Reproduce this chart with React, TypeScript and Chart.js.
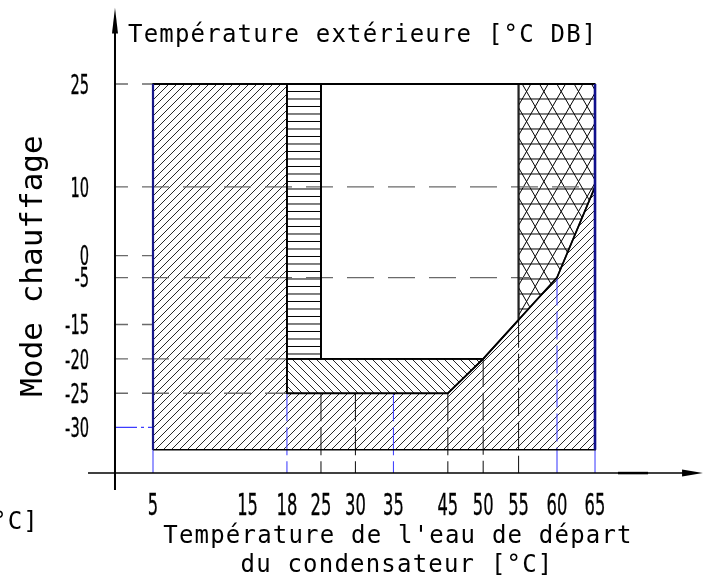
import React, { useEffect, useRef } from 'react';
import { Chart, registerables } from 'chart.js';
Chart.register(...registerables);

// ---------- axis definition (schematic, non-uniform axes) ----------
const xTicks = [5, 15, 18, 25, 30, 35, 45, 50, 55, 60, 65];
const xTickLabels = ['5', '15', '18', '25', '30', '35', '45', '50', '55', '60', '65'];
const xTickPos = [0, 2.14, 3.03, 3.8, 4.58, 5.44, 6.67, 7.47, 8.27, 9.14, 10];
const yTicks = [-30, -25, -20, -15, -5, 0, 10, 25];
const yTickLabels = ['-30', '-25', '-20', '-15', '-5', '0', '10', '25'];
const yTickPos = [0.62, 1.55, 2.49, 3.43, 4.71, 5.31, 7.19, 10];

const yBottom = -33.3;

// ---------- operating envelope zones (x: water °C, y: outdoor °C) ----------
const zoneLowerX = [5, 5, 18, 18, 45, 50, 60, 65, 65];
const zoneLowerY = [yBottom, 25, 25, -25, -25, -20, -5, 10, yBottom];
const zoneBandX = [18, 18, 25, 25];
const zoneBandY = [-20, 25, 25, -20];
const zoneStepX = [18, 18, 50, 45];
const zoneStepY = [-25, -20, -20, -25];
const zoneTriX = [55, 65, 65, 60, 55];
const zoneTriY = [25, 25, 10, -5, -14];
const zoneOpenX = [25, 55, 55, 50, 25];
const zoneOpenY = [25, 25, -14, -20, -20];

// dashed reference lines
const gridEndX = [5, 18, 18, 5, 56.5, 5, 65, 5]; // one per yTick
const guideX = [5, 18, 25, 30, 35, 45, 50, 55, 60, 65];
const guideFromY = [yBottom, -25, -25, -25, -25, -25, -20, -14, -5, yBottom];
const guideBlue = [true, true, false, false, true, false, false, false, true, true];

// ---------- layout ----------
const W = 703, H = 578;
const X_MIN = -3.4615, X_MAX = 12.443;
const Y_MIN = -3.497, Y_MAX = 12.295;
const AXIS_U = -0.86; // vertical axis position (x units)
const AXIS_V = -0.63; // horizontal axis position (y units)

function interp(v: number, keys: number[], pos: number[]) {
  const n = keys.length;
  let i = 0;
  if (v <= keys[0]) i = 0;
  else if (v >= keys[n - 1]) i = n - 2;
  else { while (i < n - 2 && v > keys[i + 1]) i++; }
  const t = (v - keys[i]) / (keys[i + 1] - keys[i]);
  return pos[i] + t * (pos[i + 1] - pos[i]);
}
const tx = (t: number) => interp(t, xTicks, xTickPos);
const ty = (t: number) => interp(t, yTicks, yTickPos);

function hatch(ctx: CanvasRenderingContext2D, poly: number[][], angleDeg: number, spacing: number, ox: number, oy: number, color = '#000', lw = 1) {
  ctx.save();
  ctx.beginPath();
  poly.forEach(([x, y], i) => (i ? ctx.lineTo(x, y) : ctx.moveTo(x, y)));
  ctx.closePath();
  ctx.clip();
  const a = (angleDeg * Math.PI) / 180;
  const dx = Math.cos(a), dy = -Math.sin(a);
  const nx = -dy, ny = dx;
  const xs = poly.map(p => p[0]), ys = poly.map(p => p[1]);
  const minX = Math.min(...xs), maxX = Math.max(...xs), minY = Math.min(...ys), maxY = Math.max(...ys);
  const corners = [[minX, minY], [maxX, minY], [minX, maxY], [maxX, maxY]];
  const proj = corners.map(([x, y]) => (x - ox) * nx + (y - oy) * ny);
  const kMin = Math.floor(Math.min(...proj) / spacing) - 1;
  const kMax = Math.ceil(Math.max(...proj) / spacing) + 1;
  const L = Math.hypot(maxX - minX, maxY - minY) + 20;
  const cx = (minX + maxX) / 2, cy = (minY + maxY) / 2;
  ctx.beginPath();
  for (let k = kMin; k <= kMax; k++) {
    const bx = ox + nx * k * spacing, by = oy + ny * k * spacing;
    const t = (cx - bx) * dx + (cy - by) * dy;
    const mx = bx + dx * t, my = by + dy * t;
    ctx.moveTo(mx - dx * L, my - dy * L);
    ctx.lineTo(mx + dx * L, my + dy * L);
  }
  ctx.strokeStyle = color;
  ctx.lineWidth = lw;
  ctx.stroke();
  ctx.restore();
}

function drawNum(ctx: CanvasRenderingContext2D, text: string, x: number, yc: number, align: CanvasTextAlign, capH: number, digitW: number) {
  ctx.save();
  const fs = capH / 0.729;
  ctx.font = `${fs}px 'DejaVu Sans', sans-serif`;
  const w0 = ctx.measureText('0').width;
  ctx.translate(x, yc + capH / 2);
  ctx.scale(digitW / w0, 1);
  ctx.textAlign = align;
  ctx.textBaseline = 'alphabetic';
  ctx.fillStyle = '#000';
  ctx.strokeStyle = '#000';
  ctx.lineWidth = 0.35;
  ctx.fillText(text, 0, 0);
  ctx.strokeText(text, 0, 0);
  ctx.restore();
}

const envelopePlugin = {
  id: 'envelope',
  beforeDatasetsDraw(chart: any) {
    const ctx: CanvasRenderingContext2D = chart.ctx;
    const sx = chart.scales.x, sy = chart.scales.y;
    const poly = (X: number[], Y: number[]) => X.map((x, i) => [sx.getPixelForValue(tx(x)), sy.getPixelForValue(ty(Y[i]))]);
    const o = [sx.getPixelForValue(tx(5)), sy.getPixelForValue(ty(25))];
    hatch(ctx, poly(zoneLowerX, zoneLowerY), 45, 8 / Math.SQRT2, o[0], o[1], '#111', 0.9);
    hatch(ctx, poly(zoneBandX, zoneBandY), 0, 7.5, o[0], o[1]);
    hatch(ctx, poly(zoneStepX, zoneStepY), 135, 8 / Math.SQRT2, o[0], o[1], '#111', 0.9);
    const tri = poly(zoneTriX, zoneTriY);
    hatch(ctx, tri, 0, 15, o[0], o[1]);
    const tcx = sx.getPixelForValue(tx(55)) + 8;
    hatch(ctx, tri, 60, 15, tcx, o[1] + 7.5);
    hatch(ctx, tri, 120, 15, tcx, o[1] + 7.5);
  },
  afterDatasetsDraw(chart: any) {
    const ctx: CanvasRenderingContext2D = chart.ctx;
    const sx = chart.scales.x, sy = chart.scales.y;
    const ax = sx.getPixelForValue(AXIS_U);
    const ay = sy.getPixelForValue(AXIS_V);
    ctx.save();
    ctx.strokeStyle = '#000';
    ctx.fillStyle = '#000';
    // vertical axis
    ctx.lineWidth = 2;
    ctx.beginPath();
    ctx.moveTo(ax, sy.getPixelForValue(11.6));
    ctx.lineTo(ax, sy.getPixelForValue(-1.09));
    ctx.stroke();
    ctx.beginPath();
    ctx.moveTo(ax, sy.getPixelForValue(12.08));
    ctx.lineTo(ax - 3, sy.getPixelForValue(11.38));
    ctx.lineTo(ax + 3, sy.getPixelForValue(11.38));
    ctx.closePath();
    ctx.fill();
    // horizontal axis
    ctx.lineWidth = 1.5;
    ctx.beginPath();
    ctx.moveTo(sx.getPixelForValue(-1.47), ay);
    ctx.lineTo(sx.getPixelForValue(12.0), ay);
    ctx.stroke();
    ctx.lineWidth = 2.5;
    ctx.beginPath();
    ctx.moveTo(sx.getPixelForValue(10.52), ay);
    ctx.lineTo(sx.getPixelForValue(11.2), ay);
    ctx.stroke();
    ctx.beginPath();
    ctx.moveTo(sx.getPixelForValue(12.44), ay);
    ctx.lineTo(sx.getPixelForValue(11.97), ay - 3.5);
    ctx.lineTo(sx.getPixelForValue(11.97), ay + 3.5);
    ctx.closePath();
    ctx.fill();

    // tick labels
    yTicks.forEach((t, i) => drawNum(ctx, yTickLabels[i], ax - 26, sy.getPixelForValue(ty(t)), 'right', 19.5, 9.3));
    xTicks.forEach((t, i) => drawNum(ctx, xTickLabels[i], sx.getPixelForValue(tx(t)), ay + 31, 'center', 22, 10.4));

    // titles
    ctx.font = "24px 'DejaVu Sans Mono', monospace";
    (ctx as any).letterSpacing = '1.2px';
    ctx.textBaseline = 'alphabetic';
    ctx.textAlign = 'left';
    ctx.fillText('Température extérieure [°C DB]', ax + 13, 42);
    ctx.textAlign = 'center';
    ctx.fillText("Température de l'eau de départ", 398, 543);
    ctx.fillText('du condensateur [°C]', 397, 572);
    ctx.textAlign = 'right';
    ctx.fillText('[°C]', 39, 529);
    (ctx as any).letterSpacing = '0px';

    ctx.save();
    ctx.translate(42, 266);
    ctx.rotate(-Math.PI / 2);
    ctx.font = "31px 'DejaVu Sans Mono', monospace";
    ctx.textAlign = 'center';
    ctx.fillText('Mode chauffage', 0, 0);
    ctx.restore();
    ctx.restore();
  },
};

function App() {
  const ref = useRef<HTMLCanvasElement>(null);
  useEffect(() => {
    if (!ref.current) return;
    const pts = (X: number[], Y: number[], close = false) => {
      const p = X.map((x, i) => ({ x: tx(x), y: ty(Y[i]) }));
      if (close) p.push(p[0]);
      return p;
    };
    const outline = (data: any[], color: string, w: number, order: number, dash: number[] = [], dashOff = 0) => ({
      data, borderColor: color, borderWidth: w, showLine: true, pointRadius: 0, fill: false,
      borderDash: dash, borderDashOffset: dashOff, order, tension: 0,
    });
    const datasets: any[] = [];
    yTicks.forEach((t, i) => {
      const blue = t === -30;
      datasets.push(outline(
        [{ x: AXIS_U, y: ty(t) }, { x: tx(gridEndX[i]), y: ty(t) }],
        blue ? '#3c3cff' : '#6a6a6a', blue ? 1.2 : 1.4, 4,
        blue ? [22, 4, 3, 4] : [27, 14], blue ? 0 : 14,
      ));
    });
    guideX.forEach((g, i) => {
      datasets.push(outline(
        [{ x: tx(g), y: ty(guideFromY[i]) }, { x: tx(g), y: AXIS_V }],
        guideBlue[i] ? '#4646ff' : '#222', 1.1, 3, [28, 6], 0,
      ));
    });
    datasets.push(outline(pts(zoneLowerX, zoneLowerY, true), '#000', 1.6, 2));
    datasets.push(outline(pts(zoneBandX, zoneBandY, true), '#000', 1.8, 2));
    datasets.push(outline(pts(zoneStepX, zoneStepY, true), '#000', 1.8, 2));
    datasets.push(outline(pts(zoneTriX, zoneTriY, true), '#222', 1.6, 2));
    datasets.push(outline(pts(zoneOpenX, zoneOpenY, true), '#000', 1.8, 2));
    datasets.push(outline(pts([5, 65], [25, 25]), '#000', 2.2, 1));
    datasets.push(outline(pts([5, 5], [yBottom, 25]), '#17178a', 2.2, 0));
    datasets.push(outline(pts([65, 65], [yBottom, 25]), '#10108c', 2.6, 0));

    const chart = new Chart(ref.current, {
      type: 'scatter',
      data: { datasets },
      options: {
        animation: false,
        responsive: false,
        devicePixelRatio: 1,
        events: [],
        layout: { padding: 0 },
        plugins: { legend: { display: false }, tooltip: { enabled: false }, title: { display: false } },
        scales: {
          x: { type: 'linear', min: X_MIN, max: X_MAX, display: false },
          y: { type: 'linear', min: Y_MIN, max: Y_MAX, display: false },
        },
      },
      plugins: [envelopePlugin],
    } as any);
    return () => chart.destroy();
  }, []);
  return (
    <div style={{ position: 'fixed', left: 0, top: 0, width: W, height: H, background: '#fff' }}>
      <canvas ref={ref} width={W} height={H} style={{ display: 'block' }} />
    </div>
  );
}

export default App;
